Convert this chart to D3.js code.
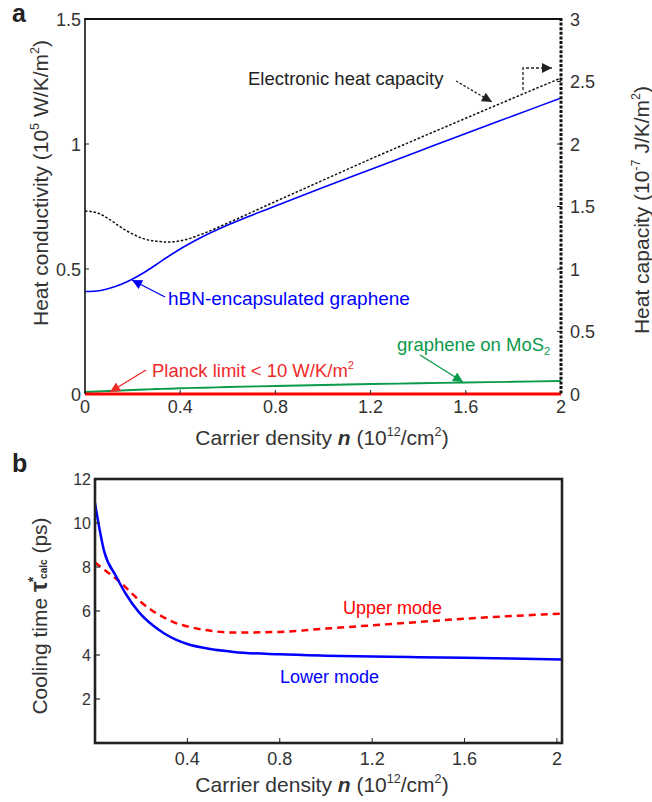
<!DOCTYPE html>
<html>
<head>
<meta charset="utf-8">
<script src="https://cdn.jsdelivr.net/npm/d3@7"></script>
<style>
  html, body { margin: 0; padding: 0; background: #fff; }
  svg { display: block; font-family: Arial, "Liberation Sans", Helvetica, sans-serif; }
</style>
</head>
<body>
<svg id="fig" width="652" height="802"></svg>
<script>
// ---- Panel a: heat conductivity and heat capacity vs carrier density ----
const densityA = [0, 0.05, 0.1, 0.15, 0.2, 0.25, 0.3, 0.35, 0.4, 0.5, 0.6, 0.8, 1.0, 1.2, 1.4, 1.6, 1.8, 2.0];
// hBN-encapsulated graphene (10^5 W/K/m^2)
const hbnConductivity = [0.41, 0.412, 0.422, 0.438, 0.46, 0.487, 0.518, 0.55, 0.58, 0.632, 0.676, 0.752, 0.826, 0.898, 0.97, 1.042, 1.113, 1.184];
// graphene on MoS2 (10^5 W/K/m^2)
const mos2Conductivity = [0.008, 0.01, 0.012, 0.014, 0.016, 0.018, 0.02, 0.021, 0.023, 0.025, 0.028, 0.032, 0.036, 0.04, 0.043, 0.046, 0.049, 0.052];
// Planck limit (< 10 W/K/m^2, i.e. 1e-4 in 10^5 W/K/m^2)
const planckLimit = densityA.map(() => 0.0001);
// electronic heat capacity (10^-7 J/K/m^2), right axis
const heatCapacity = [1.464, 1.45, 1.40, 1.335, 1.28, 1.24, 1.222, 1.216, 1.225, 1.286, 1.368, 1.54, 1.71, 1.88, 2.044, 2.206, 2.368, 2.528];

const ticksAx = [0, 0.4, 0.8, 1.2, 1.6, 2];
const ticksAyLeft = [0, 0.5, 1, 1.5];
const ticksAyRight = [0, 0.5, 1, 1.5, 2, 2.5, 3];

// ---- Panel b: cooling time vs carrier density ----
const densityLower = [0, 0.04, 0.09, 0.135, 0.19, 0.25, 0.3, 0.35, 0.4, 0.5, 0.6, 0.8, 1.0, 1.2, 1.4, 1.6, 1.8, 2.02];
const lowerMode = [10.9, 8.7, 7.6, 6.75, 5.95, 5.35, 4.98, 4.7, 4.5, 4.27, 4.14, 4.03, 3.97, 3.93, 3.9, 3.87, 3.84, 3.8];
const densityUpper = [0, 0.05, 0.1, 0.15, 0.2, 0.25, 0.3, 0.35, 0.4, 0.5, 0.6, 0.8, 1.0, 1.2, 1.4, 1.6, 1.8, 2.02];
const upperMode = [8.2, 7.8, 7.4, 6.9, 6.4, 6.0, 5.7, 5.45, 5.3, 5.1, 5.02, 5.05, 5.2, 5.35, 5.5, 5.65, 5.77, 5.88];

const ticksBx = [0.4, 0.8, 1.2, 1.6, 2];
const ticksBy = [2, 4, 6, 8, 10, 12];

const svg = d3.select("#fig");
const ink = "#222";

const defs = svg.append("defs");
function arrowMarker(id, color) {
  defs.append("marker")
    .attr("id", id).attr("viewBox", "0 0 10 10")
    .attr("refX", 10).attr("refY", 5)
    .attr("markerWidth", 14).attr("markerHeight", 10)
    .attr("markerUnits", "userSpaceOnUse")
    .attr("orient", "auto")
    .append("path").attr("d", "M0,0 L10,5 L0,10 Z").attr("fill", color);
}
arrowMarker("ar-black", "#222");
arrowMarker("ar-blue", "#0000ff");
arrowMarker("ar-green", "#0a9a4a");
arrowMarker("ar-red", "#ee2a2a");

// text with super/subscripts: parts = [{t, sup, sub, bold, italic, size, reset}]
function rich(sel, parts, baseSize) {
  parts.forEach(p => {
    const s = sel.append("tspan").text(p.t);
    let size = p.size || baseSize;
    if (p.sup) { size = p.size || baseSize * 0.6; s.attr("dy", -baseSize * 0.42); }
    if (p.sub) { size = p.size || baseSize * 0.6; s.attr("dy", baseSize * 0.2); }
    s.attr("font-size", size);
    if (p.bold) s.attr("font-weight", "bold");
    if (p.italic) s.attr("font-style", "italic");
    if (p.reset) s.attr("dy", p.reset);
  });
}

// ================= Panel a =================
const xA = d3.scaleLinear().domain([0, 2]).range([85, 561]);
const yA = d3.scaleLinear().domain([0, 1.5]).range([394, 19]);
const yA2 = d3.scaleLinear().domain([0, 3]).range([394, 19]);

const gA = svg.append("g");

const lineA = (ys, scale) => d3.line()
  .x((d, i) => xA(densityA[i]))
  .y(d => scale(d))
  .curve(d3.curveMonotoneX)(ys);

// bottom axis (thin grey)
gA.append("line").attr("x1", xA(0)).attr("x2", xA(2)).attr("y1", yA(0)).attr("y2", yA(0))
  .attr("stroke", "#777").attr("stroke-width", 1);

gA.append("path").attr("d", lineA(mos2Conductivity, yA))
  .attr("fill", "none").attr("stroke", "#0a9a4a").attr("stroke-width", 1.8);
gA.append("path").attr("d", lineA(planckLimit, yA))
  .attr("fill", "none").attr("stroke", "#ff0000").attr("stroke-width", 3);
gA.append("path").attr("d", lineA(hbnConductivity, yA))
  .attr("fill", "none").attr("stroke", "#0000ff").attr("stroke-width", 1.6);
gA.append("path").attr("d", lineA(heatCapacity, yA2))
  .attr("fill", "none").attr("stroke", "#111").attr("stroke-width", 1.5)
  .attr("stroke-dasharray", "2.5,1.8");

// left axis, top frame, dotted right (heat capacity) axis
gA.append("line").attr("x1", xA(0)).attr("x2", xA(0)).attr("y1", yA(0)).attr("y2", yA(1.5))
  .attr("stroke", "#111").attr("stroke-width", 1.6);
gA.append("line").attr("x1", xA(0) - 0.8).attr("x2", xA(2)).attr("y1", yA(1.5)).attr("y2", yA(1.5))
  .attr("stroke", "#111").attr("stroke-width", 2.2);
gA.append("line").attr("x1", xA(2)).attr("x2", xA(2)).attr("y1", yA(1.5) - 1).attr("y2", yA(0))
  .attr("stroke", "#111").attr("stroke-width", 3).attr("stroke-dasharray", "3,1.6");

// ticks
const tickFont = 18;
gA.append("g").selectAll("line").data(ticksAx.slice(1, -1)).join("line")
  .attr("x1", d => xA(d)).attr("x2", d => xA(d)).attr("y1", yA(0)).attr("y2", yA(0) - 4)
  .attr("stroke", "#222").attr("stroke-width", 1);
gA.append("g").selectAll("text").data(ticksAx).join("text")
  .attr("x", d => xA(d)).attr("y", 413).attr("text-anchor", "middle")
  .attr("font-size", tickFont).attr("fill", "#333").text(d => d);

gA.append("g").selectAll("line").data(ticksAyLeft.slice(1, -1)).join("line")
  .attr("x1", xA(0)).attr("x2", xA(0) + 4).attr("y1", d => yA(d)).attr("y2", d => yA(d))
  .attr("stroke", "#222").attr("stroke-width", 1);
gA.append("g").selectAll("text").data(ticksAyLeft).join("text")
  .attr("x", 81).attr("y", d => yA(d) + 6.5).attr("text-anchor", "end")
  .attr("font-size", tickFont).attr("fill", "#333").text(d => d);

gA.append("g").selectAll("line").data(ticksAyRight.slice(1, -1)).join("line")
  .attr("x1", xA(2)).attr("x2", xA(2) - 4).attr("y1", d => yA2(d)).attr("y2", d => yA2(d))
  .attr("stroke", "#222").attr("stroke-width", 1);
gA.append("g").selectAll("text").data(ticksAyRight).join("text")
  .attr("x", 570).attr("y", d => yA2(d) + 6.5).attr("text-anchor", "start")
  .attr("font-size", tickFont).attr("fill", "#333").text(d => d);

// axis titles
const labFont = 21;
rich(gA.append("text").attr("x", 322).attr("y", 445).attr("text-anchor", "middle").attr("fill", "#333").attr("font-size", labFont),
  [{ t: "Carrier density " }, { t: "n", bold: true, italic: true }, { t: " (10" }, { t: "12", sup: true }, { t: "/cm", reset: labFont * 0.42 }, { t: "2", sup: true }, { t: ")", reset: labFont * 0.42 }], labFont);

rich(gA.append("text").attr("transform", "translate(48,183) rotate(-90)").attr("text-anchor", "middle").attr("fill", "#333").attr("font-size", labFont),
  [{ t: "Heat conductivity (10" }, { t: "5", sup: true }, { t: " W/K/m", reset: labFont * 0.42 }, { t: "2", sup: true }, { t: ")", reset: labFont * 0.42 }], labFont);

rich(gA.append("text").attr("transform", "translate(649,210) rotate(-90)").attr("text-anchor", "middle").attr("fill", "#333").attr("font-size", labFont),
  [{ t: "Heat capacity (10" }, { t: "-7", sup: true }, { t: " J/K/m", reset: labFont * 0.42 }, { t: "2", sup: true }, { t: ")", reset: labFont * 0.42 }], labFont);

svg.append("text").attr("x", 12).attr("y", 22).attr("font-size", 25).attr("font-weight", "bold").attr("fill", "#222").text("a");

// annotations
const annFont = 18.5;
gA.append("text").attr("x", 248).attr("y", 85).attr("font-size", annFont).attr("fill", "#222").text("Electronic heat capacity");
gA.append("line").attr("x1", 456).attr("y1", 81).attr("x2", 492).attr("y2", 102)
  .attr("stroke", "#222").attr("stroke-width", 1.3).attr("stroke-dasharray", "2.5,1.8").attr("marker-end", "url(#ar-black)");
gA.append("path").attr("d", "M523,90 L523,68 L552,68")
  .attr("fill", "none").attr("stroke", "#222").attr("stroke-width", 1.3).attr("stroke-dasharray", "3,2").attr("marker-end", "url(#ar-black)");

gA.append("text").attr("x", 168).attr("y", 305).attr("font-size", 19).attr("fill", "#0000ff").text("hBN-encapsulated graphene");
gA.append("line").attr("x1", 165).attr("y1", 297).attr("x2", 132).attr("y2", 280)
  .attr("stroke", "#0000ff").attr("stroke-width", 1.4).attr("marker-end", "url(#ar-blue)");

rich(gA.append("text").attr("x", 397).attr("y", 351).attr("font-size", annFont).attr("fill", "#0a9a4a"),
  [{ t: "graphene on MoS" }, { t: "2", sub: true }], annFont);
gA.append("line").attr("x1", 420).attr("y1", 355).attr("x2", 463).attr("y2", 382)
  .attr("stroke", "#0a9a4a").attr("stroke-width", 1.4).attr("marker-end", "url(#ar-green)");

rich(gA.append("text").attr("x", 152).attr("y", 377).attr("font-size", annFont).attr("fill", "#ee2a2a"),
  [{ t: "Planck limit < 10 W/K/m" }, { t: "2", sup: true }], annFont);
gA.append("line").attr("x1", 146).attr("y1", 370).attr("x2", 110).attr("y2", 392)
  .attr("stroke", "#ee2a2a").attr("stroke-width", 1.4).attr("marker-end", "url(#ar-red)");

// ================= Panel b =================
const xB = d3.scaleLinear().domain([0, 2.022]).range([95, 562]);
const yB = d3.scaleLinear().domain([0, 12]).range([743, 479]);
const gB = svg.append("g");

gB.append("path")
  .attr("d", d3.line().x((d, i) => xB(densityUpper[i])).y(d => yB(d)).curve(d3.curveMonotoneX)(upperMode))
  .attr("fill", "none").attr("stroke", "#ff0000").attr("stroke-width", 2.5).attr("stroke-dasharray", "7,5");
gB.append("path")
  .attr("d", d3.line().x((d, i) => xB(densityLower[i])).y(d => yB(d)).curve(d3.curveMonotoneX)(lowerMode))
  .attr("fill", "none").attr("stroke", "#0000ff").attr("stroke-width", 2.5);

gB.append("rect").attr("x", 95).attr("y", 479).attr("width", 467).attr("height", 264)
  .attr("fill", "none").attr("stroke", ink).attr("stroke-width", 2.6);

gB.append("g").selectAll("line").data(ticksBx).join("line")
  .attr("x1", d => xB(d)).attr("x2", d => xB(d)).attr("y1", 743).attr("y2", 738)
  .attr("stroke", ink).attr("stroke-width", 1);
gB.append("g").selectAll("text").data(ticksBx).join("text")
  .attr("x", d => xB(d)).attr("y", 765).attr("text-anchor", "middle")
  .attr("font-size", 18).attr("fill", "#333").text(d => d);

gB.append("g").selectAll("line").data(ticksBy.slice(0, -1)).join("line")
  .attr("x1", 95).attr("x2", 100).attr("y1", d => yB(d)).attr("y2", d => yB(d))
  .attr("stroke", ink).attr("stroke-width", 1.2);
gB.append("g").selectAll("text").data(ticksBy).join("text")
  .attr("x", 91).attr("y", d => yB(d) + 5.5).attr("text-anchor", "end")
  .attr("font-size", 16).attr("fill", "#333").text(d => d);

rich(gB.append("text").attr("x", 322).attr("y", 792).attr("text-anchor", "middle").attr("fill", "#333").attr("font-size", labFont),
  [{ t: "Carrier density " }, { t: "n", bold: true, italic: true }, { t: " (10" }, { t: "12", sup: true }, { t: "/cm", reset: labFont * 0.42 }, { t: "2", sup: true }, { t: ")", reset: labFont * 0.42 }], labFont);

const yLabB = gB.append("text").attr("transform", "translate(47,616) rotate(-90)").attr("text-anchor", "middle").attr("fill", "#333").attr("font-size", labFont);
yLabB.append("tspan").text("Cooling time ");
yLabB.append("tspan").text("τ").attr("font-weight", "bold").attr("font-size", 24);
yLabB.append("tspan").text("*").attr("font-weight", "bold").attr("font-size", 14).attr("dy", -9).attr("dx", -1);
yLabB.append("tspan").text("calc").attr("font-weight", "bold").attr("font-size", 10).attr("dy", 9).attr("dx", -2);
yLabB.append("tspan").text(" (ps)");

svg.append("text").attr("x", 12).attr("y", 472).attr("font-size", 25).attr("font-weight", "bold").attr("fill", "#222").text("b");

gB.append("text").attr("x", 343).attr("y", 614).attr("font-size", 18).attr("fill", "#ff0000").text("Upper mode");
gB.append("text").attr("x", 280).attr("y", 683).attr("font-size", 18).attr("fill", "#0000ff").text("Lower mode");
</script>
</body>
</html>
